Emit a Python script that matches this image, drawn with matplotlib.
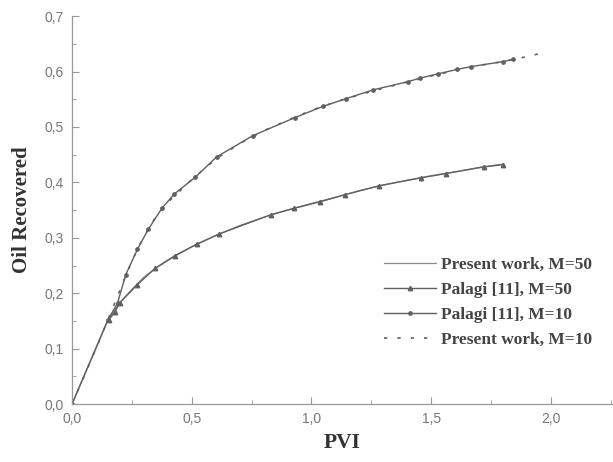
import matplotlib
matplotlib.use("Agg")
import matplotlib.pyplot as plt
from matplotlib.ticker import FuncFormatter, MultipleLocator

# Present work, M=50 (solid)
pw50_x = [0, 0.05, 0.1, 0.15, 0.2, 0.25, 0.3, 0.35, 0.4, 0.5, 0.6, 0.7, 0.8, 0.9, 1.0,
          1.1, 1.2, 1.3, 1.4, 1.5, 1.6, 1.7, 1.8]
pw50_y = [0, 0.05, 0.1, 0.152, 0.183, 0.207, 0.229, 0.245, 0.259, 0.284, 0.304, 0.322,
          0.337, 0.350, 0.362, 0.373, 0.385, 0.395, 0.404, 0.412, 0.419, 0.427, 0.433]

# Palagi [11], M=50 (triangles)
pa50_x = [0.154, 0.179, 0.20, 0.272, 0.347, 0.43, 0.524, 0.615, 0.833, 0.926, 1.036,
          1.142, 1.283, 1.456, 1.561, 1.722, 1.80]
pa50_y = [0.152, 0.166, 0.183, 0.215, 0.245, 0.268, 0.289, 0.307, 0.342, 0.353, 0.365,
          0.378, 0.394, 0.408, 0.416, 0.428, 0.432]

# Palagi [11], M=10 (dots)
pa10_x = [0, 0.15, 0.19, 0.224, 0.273, 0.318, 0.375, 0.427, 0.514, 0.604, 0.754, 0.931,
          1.047, 1.144, 1.258, 1.405, 1.452, 1.529, 1.61, 1.668, 1.80, 1.843]
pa10_y = [0, 0.152, 0.182, 0.233, 0.279, 0.315, 0.353, 0.379, 0.409, 0.446, 0.484, 0.517,
          0.537, 0.551, 0.567, 0.582, 0.588, 0.596, 0.604, 0.609, 0.618, 0.622]

# Present work, M=10 (dashed)
pw10_x = [0, 0.05, 0.1, 0.15, 0.2, 0.25, 0.3, 0.35, 0.4, 0.5, 0.6, 0.7, 0.8, 0.9, 1.0,
          1.1, 1.2, 1.3, 1.4, 1.5, 1.6, 1.7, 1.8, 1.9, 1.95]
pw10_y = [0, 0.05, 0.1, 0.152, 0.205, 0.258, 0.302, 0.338, 0.364, 0.405, 0.442, 0.470,
          0.493, 0.512, 0.530, 0.545, 0.558, 0.570, 0.581, 0.592, 0.602, 0.611, 0.618,
          0.627, 0.632]

xticks = [0.0, 0.5, 1.0, 1.5, 2.0]
yticks = [0.0, 0.1, 0.2, 0.3, 0.4, 0.5, 0.6, 0.7]

fig = plt.figure(figsize=(6.13, 4.62), dpi=100)
ax = fig.add_axes([0.1175, 0.1255, 0.8825, 0.8395])

gray = "#8a8a8a"
mgray = "#606060"
ax.plot(pw50_x, pw50_y, color=gray, lw=0.9, label="Present work, M=50")
ax.plot(pa50_x, pa50_y, color=mgray, lw=1.0, marker="^", ms=3.2, mfc=mgray, mec=mgray,
        label="Palagi [11], M=50")
ax.plot(pa10_x, pa10_y, color=mgray, lw=1.0, marker="o", ms=2.4, mfc=mgray, mec=mgray,
        label="Palagi [11], M=10")
ax.plot(pw10_x, pw10_y, color=mgray, lw=1.2, ls=(0, (2, 6)), label="Present work, M=10")

ax.set_xlim(0, 2.26)
ax.set_ylim(0, 0.7)
ax.set_xticks(xticks)
ax.set_yticks(yticks)
ax.xaxis.set_minor_locator(MultipleLocator(0.25))
ax.yaxis.set_minor_locator(MultipleLocator(0.05))
fmt = FuncFormatter(lambda v, p: f"{v:.1f}".replace(".", ","))
ax.xaxis.set_major_formatter(fmt)
ax.yaxis.set_major_formatter(fmt)
ax.tick_params(which="both", direction="in", color="#999999", labelcolor="#777777",
               labelsize=10, pad=6)
for lab in ax.get_xticklabels() + ax.get_yticklabels():
    lab.set_family("Liberation Sans")
ax.tick_params(which="major", length=5)
ax.tick_params(which="minor", length=3)
for s in ("top", "right"):
    ax.spines[s].set_visible(False)
for s in ("left", "bottom"):
    ax.spines[s].set_color("#999999")
    ax.spines[s].set_linewidth(0.9)

ax.set_xlabel("PVI", family="Liberation Serif", fontweight="bold", fontsize=15.5,
              color="#333333", labelpad=5)
ax.set_ylabel("Oil Recovered", family="Liberation Serif", fontweight="bold", fontsize=15,
              color="#333333", labelpad=9)

leg = ax.legend(loc="lower right", bbox_to_anchor=(0.99, 0.105), frameon=False,
                prop={"family": "Liberation Serif", "weight": "bold", "size": 12.5},
                handlelength=3.0, labelspacing=0.5, handletextpad=0.3)
for t in leg.get_texts():
    t.set_color("#444444")

fig.savefig("out.png", dpi=100)
